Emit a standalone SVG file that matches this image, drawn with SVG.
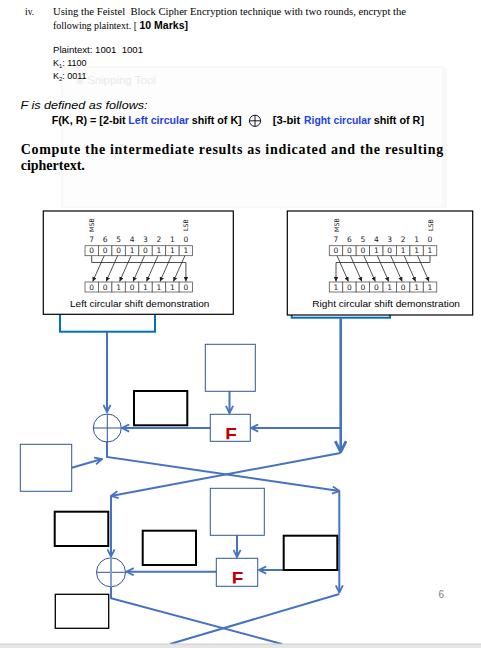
<svg xmlns="http://www.w3.org/2000/svg" width="481" height="648" viewBox="0 0 481 648">
<style>
.serif{font-family:"Liberation Serif","Times New Roman",serif;fill:#000}
.sans{font-family:"Liberation Sans",Arial,sans-serif;fill:#000}
.fb{font-family:"Liberation Sans",Arial,sans-serif;font-weight:bold;font-size:10px;fill:#000}
.blue{fill:#1f3fe6}
.dv{font-family:"DejaVu Sans","Liberation Sans",sans-serif;fill:#222;font-size:7.5px;text-anchor:middle}
.cell{fill:#fff;stroke:#555;stroke-width:0.8}
.dl{stroke:#222;stroke-width:0.8;fill:none;marker-end:url(#s)}
.bl{stroke:#4472c4;stroke-width:2;fill:none}
.ar{marker-end:url(#a)}
.kb{fill:#fff;stroke:#2f5597;stroke-width:1}
.blk{fill:#fff;stroke:#000;stroke-width:2}
.fx{font-family:"Liberation Sans",Arial,sans-serif;font-weight:bold;font-size:19px;fill:#c00000;text-anchor:middle}
.xor{fill:#fff;stroke:#2f5597;stroke-width:1}
</style>
<defs>
<marker id="a" viewBox="0 0 10 10" refX="9" refY="5" markerWidth="9" markerHeight="9" markerUnits="userSpaceOnUse" orient="auto"><path d="M1,1 L9,5 L1,9" fill="none" stroke="#4472c4" stroke-width="2"/></marker>
<marker id="b" viewBox="0 0 12 12" refX="11" refY="6" markerWidth="13" markerHeight="13" markerUnits="userSpaceOnUse" orient="auto"><path d="M1,1 L11,6 L1,11" fill="none" stroke="#4472c4" stroke-width="2.6"/></marker>
<marker id="s" viewBox="0 0 6 6" refX="6" refY="3" markerWidth="4.5" markerHeight="4.5" markerUnits="userSpaceOnUse" orient="auto"><path d="M0,0 L6,3 L0,6z" fill="#222"/></marker>
<clipPath id="c1"><rect x="210" y="414" width="40" height="25.3"/></clipPath>
<clipPath id="c2"><rect x="216" y="558" width="42" height="25.4"/></clipPath>
</defs>
<rect width="481" height="648" fill="#fff"/>
<!-- faint snipping panel -->
<rect x="62" y="67" width="381" height="140" fill="#fdfdfd" stroke="#f2f2f2" stroke-width="1"/>
<rect x="443" y="68" width="4" height="140" fill="#f8f8f8"/>
<text x="87" y="84" class="sans" style="font-size:11.5px;fill:#e9e9e9">Snipping Tool</text>
<circle cx="80" cy="81" r="3.5" fill="#eef2f8"/>

<g id="question">
<text x="25" y="15" class="serif" font-size="9.5">iv.</text>
<text x="53" y="15" class="serif" font-size="9.5" xml:space="preserve" textLength="353" lengthAdjust="spacingAndGlyphs">Using the Feistel  Block Cipher Encryption technique with two rounds, encrypt the</text>
<text x="53" y="29" class="serif" font-size="9.5" textLength="84" lengthAdjust="spacingAndGlyphs">following plaintext. [</text>
<text x="139.5" y="29" class="sans" font-size="10" font-weight="bold" textLength="48.5" lengthAdjust="spacingAndGlyphs">10 Marks]</text>
<text x="53" y="53" class="sans" font-size="9" xml:space="preserve" textLength="90" lengthAdjust="spacingAndGlyphs">Plaintext: 1001  1001</text>
<text x="53" y="66" class="sans" font-size="9">K<tspan font-size="5.8" dy="1.5">1</tspan><tspan dy="-1.5">: 1100</tspan></text>
<text x="53" y="79" class="sans" font-size="9">K<tspan font-size="5.8" dy="1.5">2</tspan><tspan dy="-1.5">: 0011</tspan></text>
<text x="20.5" y="108.5" class="sans" font-size="11" font-style="italic" textLength="127" lengthAdjust="spacingAndGlyphs">F is defined as follows:</text>
<text x="51.7" y="124.3" class="fb" textLength="74" lengthAdjust="spacingAndGlyphs">F(K, R) = [2-bit</text>
<text x="128.3" y="124.3" class="fb blue" textLength="60.7" lengthAdjust="spacingAndGlyphs">Left circular</text>
<text x="191.7" y="124.3" class="fb" textLength="50" lengthAdjust="spacingAndGlyphs">shift of K]</text>
<circle cx="255" cy="120.8" r="5.6" fill="none" stroke="#000" stroke-width="0.9"/>
<line x1="249.4" y1="120.8" x2="260.6" y2="120.8" stroke="#000" stroke-width="0.9"/>
<line x1="255" y1="115.2" x2="255" y2="126.4" stroke="#000" stroke-width="0.9"/>
<text x="272.7" y="124.3" class="fb" textLength="27.5" lengthAdjust="spacingAndGlyphs">[3-bit</text>
<text x="304" y="124.3" class="fb blue" textLength="67" lengthAdjust="spacingAndGlyphs">Right circular</text>
<text x="373.7" y="124.3" class="fb" textLength="50.3" lengthAdjust="spacingAndGlyphs">shift of R]</text>
<text x="20.7" y="153.5" class="serif" font-size="14" font-weight="bold" textLength="422.5" lengthAdjust="spacing">Compute the intermediate results as indicated and the resulting</text>
<text x="20.7" y="170" class="serif" font-size="14" font-weight="bold">ciphertext.</text>
</g>

<!-- blue boxes under demonstrations -->
<g id="L0"><rect x="60" y="290" width="95" height="41.7" fill="#fff" stroke="#0070c0" stroke-width="2"/></g>
<g id="R0"><rect x="291.7" y="290" width="98.3" height="27.7" fill="#fff" stroke="#0070c0" stroke-width="2"/></g>

<g id="left-demo">
<rect x="43.3" y="211" width="190" height="103.3" fill="#fff" stroke="#000" stroke-width="1.2"/>
<text transform="translate(94.2,225) rotate(-90)" class="dv" style="font-size:6.3px">MSB</text>
<text transform="translate(188.3,225) rotate(-90)" class="dv" style="font-size:6.3px">LSB</text>
<g class="dv">
<text x="91.7" y="242">7</text><text x="105.2" y="242">6</text><text x="118.6" y="242">5</text><text x="132.1" y="242">4</text><text x="145.5" y="242">3</text><text x="159" y="242">2</text><text x="172.4" y="242">1</text><text x="185.9" y="242">0</text>
</g>
<g>
<rect class="cell" x="85" y="245.7" width="13.45" height="10"/><rect class="cell" x="98.45" y="245.7" width="13.45" height="10"/><rect class="cell" x="111.9" y="245.7" width="13.45" height="10"/><rect class="cell" x="125.35" y="245.7" width="13.45" height="10"/><rect class="cell" x="138.8" y="245.7" width="13.45" height="10"/><rect class="cell" x="152.25" y="245.7" width="13.45" height="10"/><rect class="cell" x="165.7" y="245.7" width="13.45" height="10"/><rect class="cell" x="179.15" y="245.7" width="13.45" height="10"/>
<rect class="cell" x="85" y="282" width="13.45" height="10"/><rect class="cell" x="98.45" y="282" width="13.45" height="10"/><rect class="cell" x="111.9" y="282" width="13.45" height="10"/><rect class="cell" x="125.35" y="282" width="13.45" height="10"/><rect class="cell" x="138.8" y="282" width="13.45" height="10"/><rect class="cell" x="152.25" y="282" width="13.45" height="10"/><rect class="cell" x="165.7" y="282" width="13.45" height="10"/><rect class="cell" x="179.15" y="282" width="13.45" height="10"/>
</g>
<g class="dv">
<text x="91.7" y="253.4">0</text><text x="105.2" y="253.4">0</text><text x="118.6" y="253.4">0</text><text x="132.1" y="253.4">1</text><text x="145.5" y="253.4">0</text><text x="159" y="253.4">1</text><text x="172.4" y="253.4">1</text><text x="185.9" y="253.4">1</text>
<text x="91.7" y="289.7">0</text><text x="105.2" y="289.7">0</text><text x="118.6" y="289.7">1</text><text x="132.1" y="289.7">0</text><text x="145.5" y="289.7">1</text><text x="159" y="289.7">1</text><text x="172.4" y="289.7">1</text><text x="185.9" y="289.7">0</text>
</g>
<path class="dl" d="M91.7,255.7 V262.5 H185.9 V281.5"/>
<path class="dl" d="M104.2,255.7 L92.7,281.5"/>
<path class="dl" d="M117.6,255.7 L106.2,281.5"/>
<path class="dl" d="M131.1,255.7 L119.6,281.5"/>
<path class="dl" d="M144.5,255.7 L133.1,281.5"/>
<path class="dl" d="M158,255.7 L146.5,281.5"/>
<path class="dl" d="M171.4,255.7 L160,281.5"/>
<path class="dl" d="M184.9,255.7 L173.4,281.5"/>
<text x="70" y="307" class="sans" font-size="8.6" textLength="139.3" lengthAdjust="spacingAndGlyphs">Left circular shift demonstration</text>
</g>

<g id="right-demo">
<rect x="287.3" y="211" width="185.4" height="104" fill="#fff" stroke="#000" stroke-width="1.2"/>
<text transform="translate(338.5,225) rotate(-90)" class="dv" style="font-size:6.3px">MSB</text>
<text transform="translate(432.5,225) rotate(-90)" class="dv" style="font-size:6.3px">LSB</text>
<g class="dv">
<text x="336" y="242">7</text><text x="349.4" y="242">6</text><text x="362.9" y="242">5</text><text x="376.3" y="242">4</text><text x="389.7" y="242">3</text><text x="403.2" y="242">2</text><text x="416.6" y="242">1</text><text x="430" y="242">0</text>
</g>
<g>
<rect class="cell" x="329.3" y="245.7" width="13.43" height="10"/><rect class="cell" x="342.73" y="245.7" width="13.43" height="10"/><rect class="cell" x="356.16" y="245.7" width="13.43" height="10"/><rect class="cell" x="369.59" y="245.7" width="13.43" height="10"/><rect class="cell" x="383.02" y="245.7" width="13.43" height="10"/><rect class="cell" x="396.45" y="245.7" width="13.43" height="10"/><rect class="cell" x="409.88" y="245.7" width="13.43" height="10"/><rect class="cell" x="423.31" y="245.7" width="13.43" height="10"/>
<rect class="cell" x="329.3" y="282" width="13.43" height="10"/><rect class="cell" x="342.73" y="282" width="13.43" height="10"/><rect class="cell" x="356.16" y="282" width="13.43" height="10"/><rect class="cell" x="369.59" y="282" width="13.43" height="10"/><rect class="cell" x="383.02" y="282" width="13.43" height="10"/><rect class="cell" x="396.45" y="282" width="13.43" height="10"/><rect class="cell" x="409.88" y="282" width="13.43" height="10"/><rect class="cell" x="423.31" y="282" width="13.43" height="10"/>
</g>
<g class="dv">
<text x="336" y="253.4">0</text><text x="349.4" y="253.4">0</text><text x="362.9" y="253.4">0</text><text x="376.3" y="253.4">1</text><text x="389.7" y="253.4">0</text><text x="403.2" y="253.4">1</text><text x="416.6" y="253.4">1</text><text x="430" y="253.4">1</text>
<text x="336" y="289.7">1</text><text x="349.4" y="289.7">0</text><text x="362.9" y="289.7">0</text><text x="376.3" y="289.7">0</text><text x="389.7" y="289.7">1</text><text x="403.2" y="289.7">0</text><text x="416.6" y="289.7">1</text><text x="430" y="289.7">1</text>
</g>
<path class="dl" d="M430,255.7 V262.5 H336 V281.5"/>
<path class="dl" d="M337,255.7 L348.4,281.5"/>
<path class="dl" d="M350.4,255.7 L361.9,281.5"/>
<path class="dl" d="M363.9,255.7 L375.3,281.5"/>
<path class="dl" d="M377.3,255.7 L388.7,281.5"/>
<path class="dl" d="M390.7,255.7 L402.2,281.5"/>
<path class="dl" d="M404.2,255.7 L415.6,281.5"/>
<path class="dl" d="M417.6,255.7 L429,281.5"/>
<text x="312.3" y="307" class="sans" font-size="8.6" textLength="147.7" lengthAdjust="spacingAndGlyphs">Right circular shift demonstration</text>
</g>

<g id="connectors">
<path class="bl ar" d="M107,332 V412"/>
<path class="bl" style="stroke-width:2.6;marker-end:url(#b)" d="M340.7,318 V452"/>
<path class="bl ar" d="M229.5,391 V413"/>
<path class="bl ar" d="M340.7,428 H251"/>
<path class="bl ar" d="M210,428 H122"/>
<path class="bl ar" d="M71.7,467.7 L102,459"/>
<path class="bl ar" d="M107,442 V457 L339.5,491"/>
<path class="bl ar" d="M340.5,453 L111,496"/>
<path class="bl ar" d="M111,496 V556.5"/>
<path class="bl ar" d="M339.3,491 V592.5"/>
<path class="bl ar" d="M237,535.3 V557"/>
<path class="bl ar" d="M339.3,570 H259"/>
<path class="bl ar" d="M216.3,571.7 H126.5"/>
<path class="bl" d="M111,586.5 V598.3 L282,644"/>
<path class="bl" d="M339.3,594 L170,644"/>
</g>

<g id="xor1"><circle class="xor" cx="107.3" cy="428" r="14"/><path d="M93.3,428 H121.3 M107.3,414 V442" stroke="#2f5597" stroke-width="1"/></g>
<g id="key1"><rect class="kb" x="205.3" y="344.3" width="50" height="47"/></g>
<g id="F1"><rect class="kb" x="210.3" y="414.3" width="40" height="27"/><text x="231" y="440.5" class="fx" clip-path="url(#c1)">F</text></g>
<g id="out1"><rect class="blk" x="134" y="391" width="53.3" height="34.3"/></g>
<g id="leftbox"><rect class="kb" x="20.3" y="444.3" width="51.4" height="47"/></g>

<g id="xor2"><circle class="xor" cx="111" cy="572.3" r="14.5"/><path d="M96.5,572.3 H125.5" stroke="#2f5597" stroke-width="1"/><path d="M111,557.8 V586.8" stroke="#7f9fd6" stroke-width="2"/></g>
<g id="key2"><rect class="kb" x="210.3" y="488.3" width="54" height="47"/></g>
<g id="F2"><rect class="kb" x="216.3" y="558.3" width="41.4" height="28"/><text x="237.5" y="584.5" class="fx" clip-path="url(#c2)">F</text></g>
<g id="out2r"><rect class="blk" x="283.7" y="535.7" width="53.6" height="34.3"/></g>
<g id="out2m"><rect class="blk" x="142.7" y="530.7" width="53.3" height="34.3"/></g>
<g id="out2l"><rect class="blk" x="54.7" y="511.7" width="53.6" height="34.3"/></g>
<g id="out2b"><rect x="55.3" y="594.3" width="53.4" height="34" fill="#fff" stroke="#000" stroke-width="1.3"/></g>

<text x="438.5" y="598.3" class="sans" font-size="10" style="fill:#7f7f7f">6</text>
<rect x="0" y="644" width="481" height="4" fill="#e6e6e6"/>
<line x1="0" y1="644" x2="481" y2="644" stroke="#cccccc" stroke-width="1"/>
</svg>
